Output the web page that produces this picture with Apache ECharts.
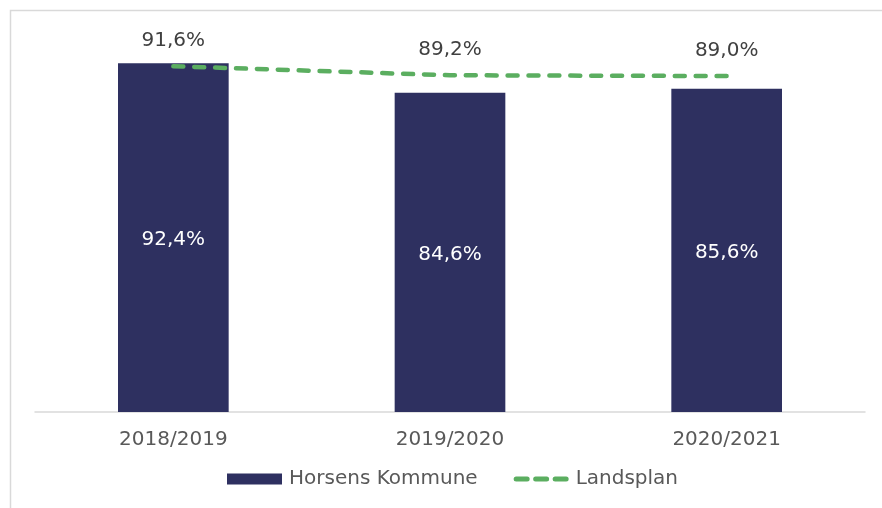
<!DOCTYPE html>
<html>
<head>
<meta charset="utf-8">
<script src="https://cdn.jsdelivr.net/npm/echarts@6/dist/echarts.min.js"></script>
<style>
  html, body { margin: 0; padding: 0; background: #fff; }
  #main { width: 882px; height: 508px; }
</style>
</head>
<body>
<div id="main"></div>
<script>
// data
var categories = ["2018/2019", "2019/2020", "2020/2021"];
var horsensValues = [92.4, 84.6, 85.6];
var landsplanValues = [91.6, 89.2, 89.0];
var seriesNames = ["Horsens Kommune", "Landsplan"];

var lineGreen = "#5bae60";

function pct(v) {
  return v.toFixed(1).replace(".", ",") + "%";
}

// three rounded dashes for the legend icon
function dashIcon() {
  var d = "path://";
  for (var i = 0; i < 3; i++) {
    var x0 = i * 19.5;
    d += "M" + (x0 + 2.5) + ",0 H" + (x0 + 13.5) +
      " A2.5,2.5 0 0 1 " + (x0 + 13.5) + ",5 H" + (x0 + 2.5) +
      " A2.5,2.5 0 0 1 " + (x0 + 2.5) + ",0 Z ";
  }
  return d;
}

var myChart = echarts.init(document.getElementById("main"));

var option = {
  animation: false,
  textStyle: { fontFamily: "DejaVu Sans" },
  // light frame round the chart
  graphic: [
    {
      type: "rect",
      shape: { x: 10.5, y: 10.5, width: 1000, height: 700 },
      style: { fill: "none", stroke: "#d9d9d9", lineWidth: 1.5 },
      silent: true,
      z: -1
    }
  ],
  grid: {
    left: 35,
    right: 17,
    top: 34.5,
    bottom: 96
  },
  legend: {
    bottom: 14,
    left: 222,
    itemWidth: 55,
    itemHeight: 11,
    itemGap: 36,
    symbolKeepAspect: true,
    textStyle: { color: "#595959", fontSize: 20, fontFamily: "DejaVu Sans", padding: [0, 0, 0, 2] },
    data: [
      { name: seriesNames[0], icon: "rect" },
      { name: seriesNames[1], icon: dashIcon(), itemStyle: { color: lineGreen, opacity: 1 } }
    ]
  },
  xAxis: {
    type: "category",
    data: categories,
    axisTick: { show: false },
    axisLine: { show: true, lineStyle: { color: "#d9d9d9", width: 1.5 } },
    axisLabel: {
      color: "#595959",
      fontSize: 20,
      margin: 18,
      fontFamily: "DejaVu Sans"
    }
  },
  yAxis: {
    type: "value",
    min: 0,
    max: 100,
    show: false,
    splitLine: { show: false }
  },
  series: [
    {
      name: seriesNames[0],
      type: "bar",
      barWidth: "40%",
      data: horsensValues,
      itemStyle: { color: "#2e3060" },
      label: {
        show: true,
        position: "inside",
        offset: [0, 2],
        color: "#ffffff",
        fontSize: 20,
        fontFamily: "DejaVu Sans",
        formatter: function (p) { return pct(p.value); }
      }
    },
    {
      name: seriesNames[1],
      type: "line",
      data: landsplanValues,
      symbol: "circle",
      symbolSize: 1,
      showSymbol: true,
      z: 5,
      lineStyle: {
        color: lineGreen,
        width: 4.5,
        type: [10, 10.9],
        cap: "round"
      },
      itemStyle: { color: "rgba(0,0,0,0)" },
      label: {
        show: true,
        position: "top",
        distance: 15,
        color: "#404040",
        fontSize: 20,
        fontFamily: "DejaVu Sans",
        formatter: function (p) { return pct(p.value); }
      }
    }
  ]
};

myChart.setOption(option);
</script>
</body>
</html>
